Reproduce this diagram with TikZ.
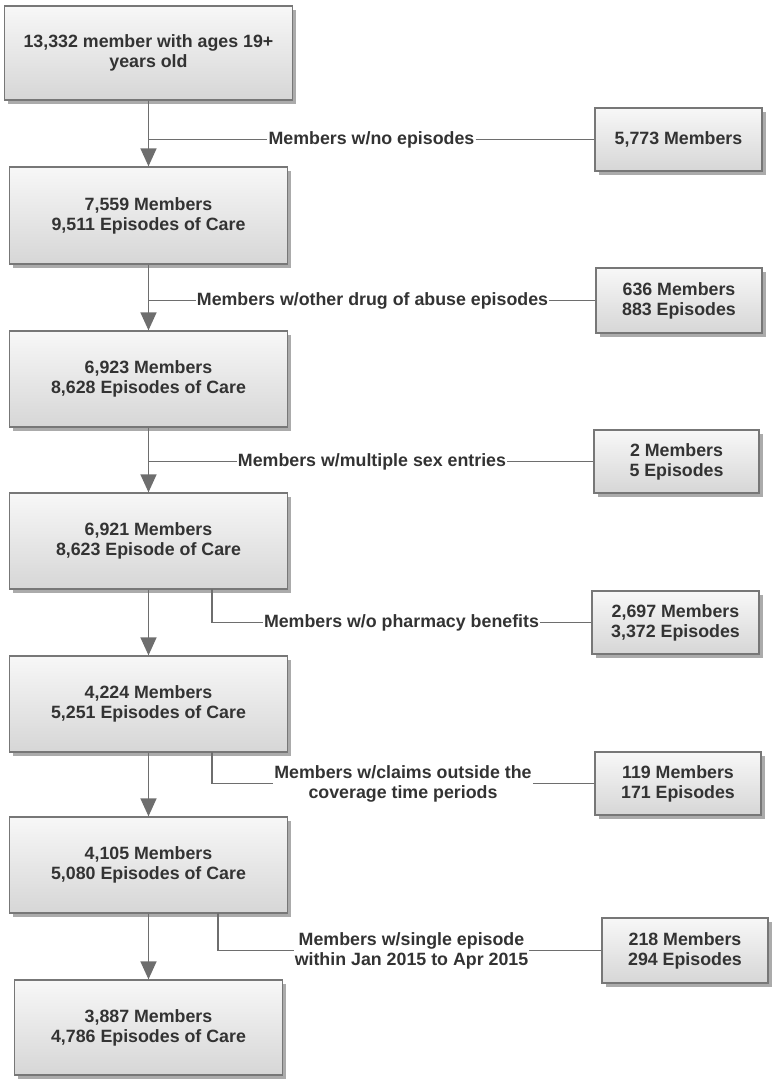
\documentclass[tikz,border=0pt]{standalone}
\usepackage{fontspec}
\setmainfont{Liberation Sans}
\usetikzlibrary{shadows,arrows.meta}
\definecolor{txt}{HTML}{333333}
\definecolor{ln}{HTML}{6E6E6E}
\definecolor{bd}{HTML}{777777}
\tikzset{
  box/.style={draw=bd, line width=1.3pt, top color=gray!6, bottom color=gray!32,
    drop shadow={shadow xshift=3.5pt, shadow yshift=-3.5pt, opacity=0.55, fill=gray!80!black},
    align=center, text=txt, inner sep=0pt,
    font=\bfseries\fontsize{17.8}{20}\selectfont},
  mainbox/.style={box, minimum width=278pt, minimum height=96pt},
  sidebox/.style={box, minimum width=166pt, minimum height=63pt},
  lbl/.style={align=center, text=txt, inner sep=1pt, font=\bfseries\fontsize{17.8}{20}\selectfont},
  conn/.style={draw=ln, line width=1.5pt},
  arr/.style={conn, -{Triangle[length=18pt,width=16pt]}}
}
\begin{document}
\begin{tikzpicture}[x=1pt,y=-1pt]
\useasboundingbox (0,0) rectangle (775,1087);
% main boxes
\node[mainbox, minimum width=288pt, minimum height=94pt] (b1) at (148.5,53) {13,332 member with ages 19+\\years old};
\node[mainbox, minimum height=97pt] (b2) at (148.5,215.5) {7,559 Members\\9,511 Episodes of Care};
\node[mainbox] (b3) at (148.5,379) {6,923 Members\\8,628 Episodes of Care};
\node[mainbox] (b4) at (148.5,541) {6,921 Members\\8,623 Episode of Care};
\node[mainbox] (b5) at (148.5,704) {4,224 Members\\5,251 Episodes of Care};
\node[mainbox] (b6) at (148.5,865) {4,105 Members\\5,080 Episodes of Care};
\node[mainbox, minimum width=268pt, minimum height=95pt] (b7) at (148.5,1027.5) {3,887 Members\\4,786 Episodes of Care};
% side boxes
\node[sidebox, minimum width=167pt] (r1) at (678.5,139.5) {5,773 Members};
\node[sidebox, minimum height=65pt] (r2) at (679,300.5) {636 Members\\883 Episodes};
\node[sidebox, minimum width=165pt] (r3) at (676.5,461.5) {2 Members\\5 Episodes};
\node[sidebox, minimum width=167pt] (r4) at (675.5,622.5) {2,697 Members\\3,372 Episodes};
\node[sidebox] (r5) at (678,783.5) {119 Members\\171 Episodes};
\node[sidebox, minimum height=65pt] (r6) at (685,950.5) {218 Members\\294 Episodes};
% labels
\node[lbl] (l1) at (371.5,139.5) {Members w/no episodes};
\node[lbl] (l2) at (372.5,300.5) {Members w/other drug of abuse episodes};
\node[lbl] (l3) at (372,461.5) {Members w/multiple sex entries};
\node[lbl] (l4) at (401.5,622.5) {Members w/o pharmacy benefits};
\node[lbl] (l5) at (403,783.5) {Members w/claims outside the\\coverage time periods};
\node[lbl] (l6) at (411.5,950.5) {Members w/single episode\\within Jan 2015 to Apr 2015};
% main arrows
\draw[arr] (b1.south) -- (b2.north);
\draw[arr] (b2.south) -- (b3.north);
\draw[arr] (b3.south) -- (b4.north);
\draw[arr] (b4.south) -- (b5.north);
\draw[arr] (b5.south) -- (b6.north);
\draw[arr] (b6.south) -- (b7.north);
% branches
\coordinate (j1) at (148.5,139.5);
\coordinate (j2) at (148.5,300.5);
\coordinate (j3) at (148.5,461.5);
\coordinate (s4) at (212,589);
\coordinate (s5) at (212,752);
\coordinate (s6) at (218,913);
\draw[conn] (j1) -- (l1.west);
\draw[conn] (l1.east) -- (r1.west);
\draw[conn] (j2) -- (l2.west);
\draw[conn] (l2.east) -- (r2.west);
\draw[conn] (j3) -- (l3.west);
\draw[conn] (l3.east) -- (r3.west);
\draw[conn] (s4) |- (l4.west);
\draw[conn] (l4.east) -- (r4.west);
\draw[conn] (s5) |- (l5.west);
\draw[conn] (l5.east) -- (r5.west);
\draw[conn] (s6) |- (l6.west);
\draw[conn] (l6.east) -- (r6.west);
\end{tikzpicture}
\end{document}
